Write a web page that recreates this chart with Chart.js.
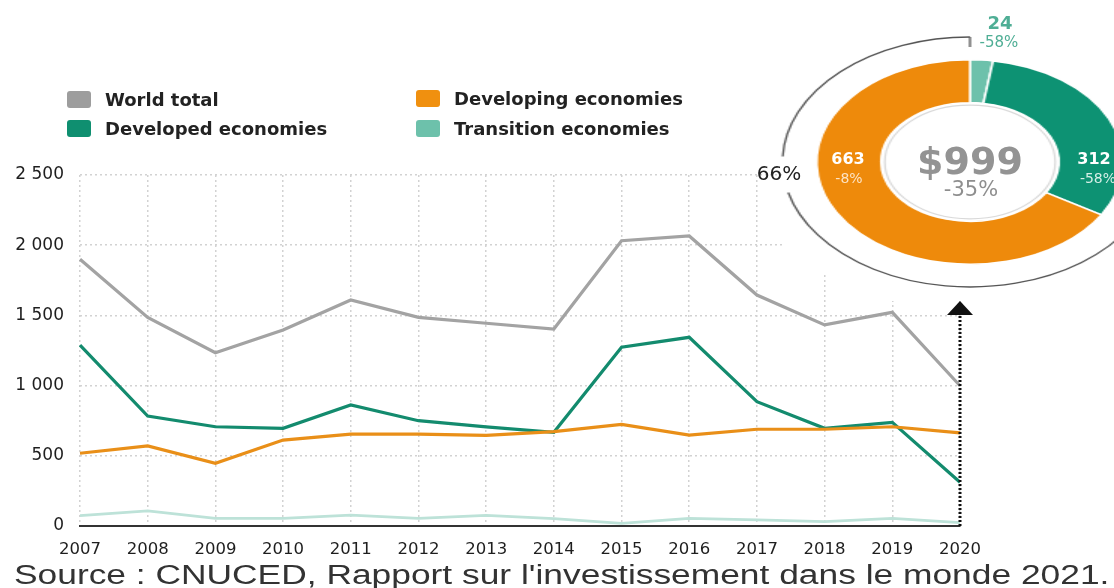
<!DOCTYPE html>
<html>
<head>
<meta charset="utf-8">
<title>IDE 2007-2020</title>
<script src="https://cdn.jsdelivr.net/npm/chart.js"></script>
<style>
  html, body { margin: 0; padding: 0; background: #fff; }
  body { width: 1114px; height: 588px; position: relative; overflow: hidden; font-family: 'DejaVu Sans', sans-serif; }
  #lineChart { position: absolute; left: 0; top: 0; }
  #donutBox { position: absolute; left: 745px; top: 0; width: 300px; height: 324px; transform: scaleX(1.5); transform-origin: 0 0; }
  .legend-item { position: absolute; display: flex; align-items: center; font-weight: bold; font-size: 18px; color: #222; white-space: nowrap; }
  .legend-item .swatch { width: 24px; height: 17px; border-radius: 3px; margin-right: 14px; }
  .lbl { position: absolute; transform: translate(-50%, -50%); white-space: nowrap; line-height: 1; }
  #source { position: absolute; left: 14px; top: 562px; font-family: 'Liberation Sans', Arial, sans-serif; font-size: 27px; line-height: 1; color: #333; white-space: nowrap; transform-origin: 0 0; }
</style>
</head>
<body>
<canvas id="lineChart" width="1114" height="562"></canvas>
<div id="donutBox"><canvas id="donutChart" width="300" height="324"></canvas></div>
<div id="legend"></div>
<div id="donutLabels"></div>
<div id="source">Source : CNUCED, Rapport sur l'investissement dans le monde 2021.</div>

<script>
// FDI flows, billions of dollars
const years = ["2007", "2008", "2009", "2010", "2011", "2012", "2013", "2014", "2015", "2016", "2017", "2018", "2019", "2020"];
const worldTotal = [1900, 1486, 1234, 1396, 1610, 1486, 1444, 1403, 2032, 2066, 1645, 1432, 1522, 999];
const developed = [1289, 783, 707, 696, 862, 750, 706, 667, 1273, 1344, 885, 696, 738, 312];
const developing = [518, 570, 447, 612, 655, 655, 646, 672, 724, 648, 689, 689, 707, 663];
const transition = [74, 107, 55, 55, 78, 55, 76, 52, 19, 55, 43, 31, 55, 24];
const yTicks = [0, 500, 1000, 1500, 2000, 2500];

// 2020 breakdown (donut)
const donutNames = ["Transition economies", "Developed economies", "Developing economies"];
const donutValues = [24, 312, 663];
const donutChanges = ["-58%", "-58%", "-8%"];
const totalChange = "-35%";

const colors = {
  world: "#a3a3a3",
  developed: "#138b6e",
  developing: "#e98f18",
  transitionLine: "#bde2d8",
  transition: "#6dc1ab"
};

Chart.defaults.font.family = "'DejaVu Sans', sans-serif";
Chart.defaults.color = "#222";

buildLegend();
drawLineChart();
drawDonut();
fitSource();

function buildLegend() {
  const items = [
    { text: "World total", color: "#9d9d9d", left: 67, top: 89 },
    { text: "Developed economies", color: "#0f8f70", left: 67, top: 118 },
    { text: "Developing economies", color: "#f0900f", left: 416, top: 88 },
    { text: "Transition economies", color: colors.transition, left: 416, top: 118 }
  ];
  const box = document.getElementById("legend");
  items.forEach(it => {
    const div = document.createElement("div");
    div.className = "legend-item";
    div.style.left = it.left + "px";
    div.style.top = it.top + "px";
    div.innerHTML = `<span class="swatch" style="background:${it.color}"></span><span>${it.text}</span>`;
    box.appendChild(div);
  });
}

// thousands with a space: 2 500
function fmt(v) {
  return v >= 1000 ? String(v).replace(/\B(?=(\d{3})+(?!\d))/g, " ") : String(v);
}

function drawLineChart() {
  // white area behind the donut, painted over the grid only
  const gridMask = {
    id: "gridMask",
    beforeDatasetsDraw(chart) {
      const ctx = chart.ctx;
      ctx.save();
      ctx.fillStyle = "#fff";
      ctx.fillRect(783, 0, 331, 273);
      ctx.fillRect(860, 0, 254, 301);
      ctx.restore();
    }
  };

  // dotted arrow from the 2020 point up to the donut
  const arrow = {
    id: "arrow",
    afterDatasetsDraw(chart) {
      const ctx = chart.ctx;
      const x = chart.scales.x.getPixelForValue(years.length - 1);
      const y0 = chart.scales.y.getPixelForValue(0);
      const tip = 301;
      ctx.save();
      ctx.strokeStyle = "#111";
      ctx.lineWidth = 3;
      ctx.setLineDash([2, 2]);
      ctx.beginPath();
      ctx.moveTo(x, y0);
      ctx.lineTo(x, tip + 12);
      ctx.stroke();
      ctx.setLineDash([]);
      ctx.fillStyle = "#111";
      ctx.beginPath();
      ctx.moveTo(x, tip);
      ctx.lineTo(x - 13, tip + 14);
      ctx.lineTo(x + 13, tip + 14);
      ctx.closePath();
      ctx.fill();
      ctx.restore();
    }
  };

  const line = (data, color, width) => ({
    data: data,
    borderColor: color,
    borderWidth: width,
    pointRadius: 0,
    tension: 0,
    fill: false
  });

  new Chart(document.getElementById("lineChart"), {
    type: "line",
    data: {
      labels: years,
      datasets: [
        line(transition, colors.transitionLine, 2.8),
        line(developing, colors.developing, 3.2),
        line(developed, colors.developed, 3.2),
        line(worldTotal, colors.world, 3.2)
      ]
    },
    options: {
      responsive: false,
      animation: false,
      layout: { padding: { top: 175, right: 154, left: 0, bottom: 0 } },
      plugins: { legend: { display: false }, tooltip: { enabled: false } },
      scales: {
        x: {
          offset: false,
          afterFit: s => { s.height = 36; },
          grid: { color: "#d2d2d2", lineWidth: 1.5, drawTicks: false },
          border: { display: true, color: "#333", width: 2, dash: [2, 3] },
          ticks: { padding: 14, maxRotation: 0, autoSkip: false, font: { size: 16.5 }, color: "#1e1e1e" }
        },
        y: {
          min: 0,
          max: 2500,
          afterFit: s => { s.width = 80; },
          afterBuildTicks: s => { s.ticks = yTicks.map(v => ({ value: v })); },
          grid: {
            color: ctx => (ctx.tick && ctx.tick.value === 0 ? "rgba(0,0,0,0)" : "#d2d2d2"),
            lineWidth: 1.5,
            drawTicks: false
          },
          border: { display: false, dash: [2, 3] },
          ticks: { padding: 16, font: { size: 17 }, color: "#1e1e1e", callback: v => fmt(v) }
        }
      }
    },
    plugins: [gridMask, arrow]
  });
}

function drawDonut() {
  const total = donutValues.reduce((a, b) => a + b, 0);
  const share = donutValues[2] / total;

  // inner ring and the outer bracket arc showing the developing share
  const decor = {
    id: "decor",
    afterDraw(chart) {
      const arc = chart.getDatasetMeta(0).data[0];
      const cx = arc.x, cy = arc.y;
      const ctx = chart.ctx;
      const r = 125;
      ctx.save();
      ctx.strokeStyle = "#d9d9d9";
      ctx.lineWidth = 1.2;
      ctx.beginPath();
      ctx.arc(cx, cy, arc.innerRadius - 2.5, 0, Math.PI * 2);
      ctx.stroke();

      ctx.strokeStyle = "#555";
      ctx.lineWidth = 1.3;
      const end = -Math.PI / 2 - Math.PI * 2 * share;
      ctx.beginPath();
      ctx.arc(cx, cy, r, -Math.PI / 2, -3.0976, true);
      ctx.stroke();
      ctx.beginPath();
      ctx.arc(cx, cy, r, -3.388, end, true);
      ctx.stroke();
      // tick at the top
      ctx.beginPath();
      ctx.moveTo(cx, cy - r);
      ctx.lineTo(cx, cy - r + 10);
      ctx.stroke();
      // tick at the end
      ctx.beginPath();
      ctx.moveTo(cx + r * Math.cos(end), cy + r * Math.sin(end));
      ctx.lineTo(cx + (r + 12) * Math.cos(end), cy + (r + 12) * Math.sin(end));
      ctx.stroke();
      ctx.restore();
    }
  };

  new Chart(document.getElementById("donutChart"), {
    type: "doughnut",
    data: {
      labels: donutNames,
      datasets: [{
        data: donutValues,
        backgroundColor: [colors.transition, "#0d9273", "#ee8a0b"],
        borderColor: "#fff",
        borderWidth: 1.5
      }]
    },
    options: {
      responsive: false,
      animation: false,
      cutout: "58%",
      layout: { padding: { left: 47, right: 47, top: 59, bottom: 59 } },
      plugins: { legend: { display: false }, tooltip: { enabled: false } }
    },
    plugins: [decor]
  });

  // labels on and around the donut
  const labels = [
    { text: "$" + total, x: 970, y: 161, size: 38, weight: "bold", color: "#939393" },
    { text: totalChange, x: 971, y: 189, size: 21, weight: "normal", color: "#8e8e8e" },
    { text: String(donutValues[2]), x: 848, y: 159, size: 16, weight: "bold", color: "#fff" },
    { text: donutChanges[2], x: 849, y: 178, size: 14, weight: "normal", color: "#fde3c4" },
    { text: String(donutValues[1]), x: 1094, y: 159, size: 16, weight: "bold", color: "#fff" },
    { text: donutChanges[1], x: 1098, y: 178, size: 14, weight: "normal", color: "#d6efe7" },
    { text: String(donutValues[0]), x: 1000, y: 23, size: 18, weight: "bold", color: "#4fae95" },
    { text: donutChanges[0], x: 999, y: 42, size: 15, weight: "normal", color: "#4fae95" },
    { text: Math.round(share * 100) + "%", x: 779, y: 173, size: 20, weight: "normal", color: "#222" }
  ];
  const box = document.getElementById("donutLabels");
  labels.forEach(l => {
    const div = document.createElement("div");
    div.className = "lbl";
    div.textContent = l.text;
    div.style.left = l.x + "px";
    div.style.top = l.y + "px";
    div.style.fontSize = l.size + "px";
    div.style.fontWeight = l.weight;
    div.style.color = l.color;
    box.appendChild(div);
  });
}

// stretch the source line across the page
function fitSource() {
  const el = document.getElementById("source");
  const k = 1096 / el.offsetWidth;
  el.style.transform = `scaleX(${k})`;
}
</script>
</body>
</html>
